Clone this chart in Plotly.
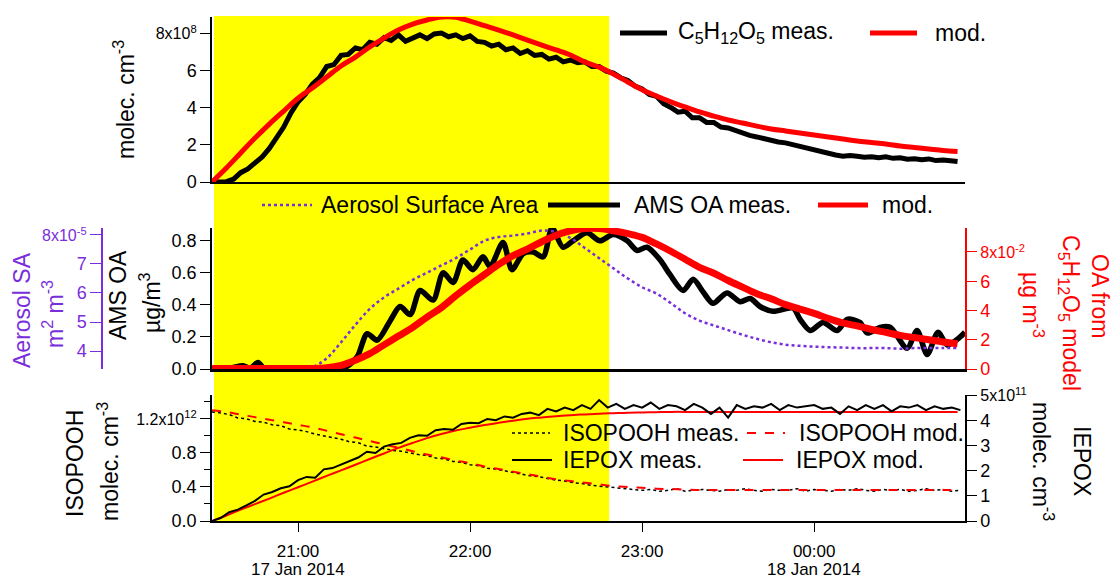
import plotly.graph_objects as go
import pandas as pd

# ---------------- data ----------------
START = pd.Timestamp("2014-01-17 20:30")
END_MIN = 262.6
HIGHLIGHT_MIN = (0.7, 138.5)          # yellow period (minutes after 20:30)

GRID5 = list(range(0, 261, 5))        # 5-min model grid, minutes after 20:30

# top panel: C5H12O5 (1e8 molec cm-3), measured on a 2.5-min grid
c5_meas = [0, 0.0, 0.02, 0.15, 0.5, 0.7, 1.0, 1.35, 1.8, 2.4, 2.95, 3.7, 4.3, 4.7, 5.25, 5.6,
           6.2, 6.3, 6.8, 6.85, 7.2, 7.1, 7.5, 7.4, 7.75, 7.6, 7.9, 7.55, 7.75, 7.9, 7.7, 7.95,
           8.0, 7.8, 7.9, 7.7, 7.85, 7.55, 7.5, 7.3, 7.4, 7.1, 7.2, 6.9, 7.05, 6.8, 6.85, 6.6,
           6.7, 6.45, 6.55, 6.4, 6.45, 6.2, 6.2, 5.95, 5.85, 5.6, 5.45, 5.15, 5.0, 4.7, 4.6, 4.2,
           4.0, 3.75, 3.8, 3.45, 3.45, 3.2, 3.2, 2.95, 2.9, 2.75, 2.65, 2.5, 2.42, 2.32, 2.25,
           2.15, 2.1, 2.0, 1.92, 1.8, 1.72, 1.62, 1.55, 1.45, 1.38, 1.42, 1.38, 1.33, 1.36, 1.3,
           1.35, 1.27, 1.3, 1.22, 1.25, 1.2, 1.24, 1.15, 1.18, 1.12, 1.1]
c5_mod = [0, 0.75, 1.56, 2.36, 3.11, 3.81, 4.5, 5.05, 5.64, 6.23, 6.71, 7.25, 7.73, 8.16, 8.48,
          8.7, 8.86, 8.85, 8.64, 8.4, 8.16, 7.9, 7.62, 7.35, 7.09, 6.82, 6.44, 6.17, 5.8, 5.37,
          4.95, 4.62, 4.3, 4.03, 3.76, 3.54, 3.33, 3.17, 3.0, 2.85, 2.74, 2.63, 2.52, 2.42, 2.31,
          2.2, 2.12, 2.04, 1.93, 1.85, 1.77, 1.69, 1.64]

# middle panel
sa_vals = [3.45] * 8 + [3.75, 4.3, 4.9, 5.45, 5.85, 6.15, 6.45, 6.7, 6.95, 7.2, 7.5, 7.8, 7.93,
                        7.98, 8.05, 8.15, 8.1, 7.9, 7.55, 7.2, 6.85, 6.5, 6.2, 5.98, 5.65, 5.3,
                        5.05, 4.88, 4.72, 4.56, 4.42, 4.3, 4.22, 4.18, 4.15, 4.13, 4.12, 4.1, 4.1,
                        4.1, 4.08, 4.1, 4.1, 4.1, 4.1]          # 1e-5 m2 m-3
ams_t = [0, 6.3, 10.8, 13.3, 16.0, 18.5, 27.2, 37.7, 42.9, 46.4, 50.6, 54.1, 57.6, 62.1, 65.6,
         69.1, 72.6, 77.1, 80.6, 84.1, 87.5, 91.0, 94.5, 97.0, 101.5, 104.6, 108.5, 112.0, 115.5,
         118.6, 122.4, 125.9, 130.8, 135.3, 139.9, 144.8, 148.2, 151.7, 156.3, 159.7, 164.3,
         167.8, 171.3, 174.7, 179.6, 184.2, 187.7, 191.1, 195.7, 202.6, 205.1, 208.6, 213.1,
         218.0, 221.5, 226.0, 228.5, 233.0, 236.5, 242.4, 245.9, 249.4, 253.2, 256.4, 260.9, 262.6]
ams_meas = [0.0, 0.005, 0.02, 0.005, 0.04, 0.0, 0.0, 0.0, 0.01, 0.01, 0.075, 0.22, 0.18, 0.30,
            0.39, 0.34, 0.49, 0.43, 0.60, 0.54, 0.68, 0.62, 0.70, 0.64, 0.79, 0.62, 0.72, 0.73,
            0.70, 0.88, 0.76, 0.80, 0.85, 0.80, 0.84, 0.80, 0.74, 0.76, 0.68, 0.59, 0.49, 0.56,
            0.48, 0.41, 0.475, 0.42, 0.44, 0.39, 0.36, 0.38, 0.31, 0.24, 0.29, 0.24, 0.31, 0.29,
            0.225, 0.26, 0.26, 0.13, 0.24, 0.09, 0.23, 0.15, 0.20, 0.23]   # ug m-3
oa_mod = [0.03] * 8 + [0.08, 0.25, 0.6, 1.05, 1.65, 2.25, 2.85, 3.55, 4.2, 5.0, 5.75, 6.45, 7.15,
                       7.75, 8.2, 8.7, 9.15, 9.45, 9.6, 9.6, 9.45, 9.25, 9.0, 8.55, 8.05, 7.5,
                       6.95, 6.55, 6.05, 5.6, 5.15, 4.8, 4.4, 4.1, 3.8, 3.45, 3.15, 2.95, 2.7,
                       2.5, 2.3, 2.15, 2.0, 1.85, 1.72]          # 1e-2 ug m-3

# bottom panel
isopooh_meas = [1.28, 1.27, 1.25, 1.21, 1.2, 1.17, 1.16, 1.13, 1.12, 1.08, 1.07, 1.05, 1.02, 1.0,
                0.98, 0.96, 0.93, 0.92, 0.88, 0.87, 0.85, 0.83, 0.82, 0.8, 0.78, 0.77, 0.74, 0.73,
                0.7, 0.69, 0.66, 0.65, 0.62, 0.61, 0.59, 0.57, 0.55, 0.53, 0.52, 0.5, 0.48, 0.47,
                0.45, 0.44, 0.42, 0.41, 0.4, 0.39, 0.38, 0.37,
                0.36, 0.37, 0.35, 0.36, 0.38, 0.35, 0.36, 0.37, 0.36, 0.35, 0.37, 0.36, 0.38, 0.36,
                0.35, 0.37, 0.36, 0.36, 0.38, 0.35, 0.37, 0.36, 0.35, 0.37, 0.36, 0.38, 0.36, 0.35,
                0.37, 0.36, 0.37, 0.35, 0.36, 0.38, 0.36, 0.37, 0.35, 0.36]   # 1e12, 3-min grid
isopooh_mod = [1.30, 1.28, 1.25, 1.22, 1.19, 1.16, 1.13, 1.1, 1.06, 1.02, 0.98, 0.94, 0.9, 0.86,
               0.82, 0.78, 0.75, 0.71, 0.68, 0.64, 0.61, 0.58, 0.55, 0.52, 0.49, 0.47, 0.45, 0.43,
               0.41, 0.4, 0.39, 0.38, 0.375, 0.37] + [0.365] * 19
iepox_meas = [0.0, 0.12, 0.35, 0.45, 0.62, 0.8, 1.05, 1.15, 1.3, 1.38, 1.62, 1.75, 1.72, 2.05,
              2.1, 2.25, 2.4, 2.52, 2.75, 2.7, 2.95, 3.05, 3.1, 3.3, 3.4, 3.38, 3.6, 3.65, 3.62,
              3.85, 3.9, 3.88, 4.05, 4.0, 4.15, 4.1, 4.25, 4.3, 4.2, 4.45, 4.35, 4.5, 4.4, 4.6,
              4.45, 4.8, 4.5, 4.65, 4.45, 4.6,
              4.5, 4.7, 4.45, 4.6, 4.55, 4.4, 4.65, 4.5, 4.25, 4.5, 4.1, 4.6, 4.45, 4.55, 4.5,
              4.65, 4.4, 4.6, 4.5, 4.55, 4.6, 4.45, 4.5, 4.25, 4.55, 4.4, 4.6, 4.45, 4.6, 4.35,
              4.55, 4.5, 4.6, 4.4, 4.55, 4.45, 4.5, 4.4]          # 1e11, 3-min grid
iepox_mod = [0, 0.22, 0.45, 0.67, 0.89, 1.12, 1.34, 1.56, 1.79, 2.01, 2.23, 2.46, 2.68, 2.9, 3.1,
             3.29, 3.45, 3.59, 3.7, 3.81, 3.9, 3.98, 4.06, 4.11, 4.16, 4.2, 4.23, 4.26, 4.28, 4.3,
             4.31, 4.32] + [4.33] * 21

X_TICKS = ["2014-01-17 21:00", "2014-01-17 22:00", "2014-01-17 23:00", "2014-01-18 00:00"]
X_TICKTEXT = ["21:00", "22:00", "23:00", "00:00"]
DATE_LABELS = {"2014-01-17 21:00": "17 Jan 2014", "2014-01-18 00:00": "18 Jan 2014"}


def to_time(mins):
    return [START + pd.Timedelta(minutes=float(m)) for m in mins]


def grid(vals, step):
    return to_time([step * i for i in range(len(vals))])


# ---------------- figure ----------------
W, H = 1115, 578
FONT = "Liberation Sans, Arial, sans-serif"
PURPLE = "#7A2EDB"
RED = "#FF0000"
TF = 18


def px(x):
    return x / W


def py(y):
    return 1 - y / H


def small(s):
    return "<span style='font-size:16px'>" + s + "</span>"


t5 = to_time(GRID5)
fig = go.Figure()

# top
fig.add_trace(go.Scatter(x=grid(c5_meas, 2.5), y=[v * 1e8 for v in c5_meas], xaxis="x", yaxis="y",
                         mode="lines", line=dict(color="black", width=5)))
fig.add_trace(go.Scatter(x=t5, y=[v * 1e8 for v in c5_mod], xaxis="x", yaxis="y", mode="lines",
                         line=dict(color=RED, width=5, shape="spline")))
# middle
fig.add_trace(go.Scatter(x=to_time(ams_t), y=ams_meas, xaxis="x2", yaxis="y2", mode="lines",
                         line=dict(color="black", width=5.5, shape="spline", smoothing=0.8)))
fig.add_trace(go.Scatter(x=t5, y=[v * 1e-5 for v in sa_vals], xaxis="x2", yaxis="y3", mode="lines",
                         line=dict(color=PURPLE, width=2.5, dash="dot", shape="spline")))
fig.add_trace(go.Scatter(x=t5, y=[v * 1e-2 for v in oa_mod], xaxis="x2", yaxis="y4", mode="lines",
                         line=dict(color=RED, width=7, shape="spline")))
# bottom
fig.add_trace(go.Scatter(x=grid(isopooh_meas, 3), y=[v * 1e12 for v in isopooh_meas], xaxis="x3",
                         yaxis="y5", mode="lines", line=dict(color="black", width=1.5, dash="dot")))
fig.add_trace(go.Scatter(x=t5, y=[v * 1e12 for v in isopooh_mod], xaxis="x3", yaxis="y5",
                         mode="lines", line=dict(color=RED, width=2, dash="dash", shape="spline")))
fig.add_trace(go.Scatter(x=t5, y=[v * 1e11 for v in iepox_mod], xaxis="x3", yaxis="y6",
                         mode="lines", line=dict(color=RED, width=2, shape="spline")))
fig.add_trace(go.Scatter(x=grid(iepox_meas, 3), y=[v * 1e11 for v in iepox_meas], xaxis="x3",
                         yaxis="y6", mode="lines", line=dict(color="black", width=2)))

xr = [START, START + pd.Timedelta(minutes=END_MIN)]
XD = [px(212), px(965)]
common_x = dict(domain=XD, range=xr, showgrid=False, zeroline=False, showline=True,
                linecolor="black", type="date", automargin=False)
tickfont = dict(family=FONT, size=TF, color="black")
common_y = dict(showgrid=False, zeroline=False, showline=True, linewidth=1.5, ticks="outside",
                ticklen=10, tickmode="array", automargin=False)

fig.update_layout(
    width=W, height=H, margin=dict(l=0, r=0, t=0, b=0, pad=0, autoexpand=False),
    paper_bgcolor="white", plot_bgcolor="rgba(0,0,0,0)", showlegend=False,
    font=dict(family=FONT, size=TF, color="black"),
    xaxis=dict(common_x, anchor="y", linewidth=2, showticklabels=False, ticks=""),
    xaxis2=dict(common_x, anchor="y2", matches="x", linewidth=3, showticklabels=False, ticks=""),
    xaxis3=dict(common_x, anchor="y5", matches="x", linewidth=2, ticks="outside", ticklen=9,
                tickcolor="black", tickmode="array", tickvals=X_TICKS, ticktext=X_TICKTEXT,
                tickfont=dict(family=FONT, size=17, color="black"), ticklabelstandoff=5),
    yaxis=dict(common_y, domain=[py(182), py(17)], range=[0, 8.86e8], anchor="x",
               linecolor="black", tickcolor="black",
               tickvals=[0, 2e8, 4e8, 6e8, 8e8],
               ticktext=["0", "2", "4", "6", small("8x10<sup>8</sup>")], tickfont=tickfont),
    yaxis2=dict(common_y, domain=[py(369), py(228)], range=[0, 0.88], anchor="x2",
                linecolor="black", tickcolor="black",
                tickvals=[0, 0.2, 0.4, 0.6, 0.8], ticktext=["0.0", "0.2", "0.4", "0.6", "0.8"],
                tickfont=tickfont),
    yaxis3=dict(common_y, overlaying="y2", anchor="free", position=px(102), side="left",
                range=[3.38e-5, 8.24e-5], linecolor=PURPLE, ticklen=11, tickcolor=PURPLE,
                tickvals=[4e-5, 5e-5, 6e-5, 7e-5, 8e-5],
                ticktext=["4", "5", "6", "7", small("8x10<sup>-5</sup>")],
                tickfont=dict(family=FONT, size=TF, color=PURPLE)),
    yaxis4=dict(common_y, overlaying="y2", anchor="x2", side="right", range=[0, 0.0964],
                linecolor=RED, tickcolor=RED,
                tickvals=[0, 0.02, 0.04, 0.06, 0.08],
                ticktext=["0", "2", "4", "6", small("8x10<sup>-2</sup>")],
                tickfont=dict(family=FONT, size=TF, color=RED)),
    yaxis5=dict(common_y, domain=[py(521), py(395)], range=[0, 1.48e12], anchor="x3",
                linecolor="black", tickcolor="black",
                tickvals=[0, 0.4e12, 0.8e12, 1.2e12],
                ticktext=["0.0", "0.4", "0.8", small("1.2x10<sup>12</sup>")], tickfont=tickfont,
                minor=dict(tickvals=[0.2e12, 0.6e12, 1.0e12, 1.4e12], ticks="outside",
                           ticklen=6, tickcolor="black")),
    yaxis6=dict(common_y, overlaying="y5", anchor="x3", side="right", range=[0, 5e11],
                linecolor="black", tickcolor="black",
                tickvals=[0, 1e11, 2e11, 3e11, 4e11, 5e11],
                ticktext=["0", "1", "2", "3", "4", small("5x10<sup>11</sup>")], tickfont=tickfont),
)

# yellow highlighted period
fig.add_shape(type="rect", xref="x", yref="paper",
              x0=START + pd.Timedelta(minutes=HIGHLIGHT_MIN[0]),
              x1=START + pd.Timedelta(minutes=HIGHLIGHT_MIN[1]),
              y0=py(521), y1=py(16), fillcolor="#FFFF00", line=dict(width=0), layer="below")


def leg_line(x0, x1, y, color, width, dash="solid"):
    fig.add_shape(type="line", xref="paper", yref="paper", x0=px(x0), x1=px(x1), y0=py(y),
                  y1=py(y), line=dict(color=color, width=width, dash=dash), layer="above")


def label(text, x, y, size=23, color="black", angle=0, xanchor="center"):
    fig.add_annotation(text=text, x=px(x), y=py(y), xref="paper", yref="paper", showarrow=False,
                       textangle=angle, xanchor=xanchor, yanchor="middle",
                       font=dict(family=FONT, size=size, color=color))


# date line under the time tick labels
for tick, txt in DATE_LABELS.items():
    fig.add_annotation(text=txt, x=pd.Timestamp(tick), y=py(569), xref="x3", yref="paper",
                       showarrow=False, xanchor="center", yanchor="middle",
                       font=dict(family=FONT, size=17, color="black"))

# legends
leg_line(620, 667, 33, "black", 5)
label("C<sub>5</sub>H<sub>12</sub>O<sub>5</sub> meas.", 676, 33, xanchor="left")
leg_line(870, 917, 33, RED, 5)
label("mod.", 933, 33, xanchor="left")

leg_line(262, 312, 205, PURPLE, 2.5, "dot")
label("Aerosol Surface Area", 319, 205, xanchor="left")
leg_line(548, 620, 205, "black", 5)
label("AMS OA meas.", 632, 205, xanchor="left")
leg_line(818, 868, 205, RED, 5)
label("mod.", 880, 205, xanchor="left")

leg_line(512, 550, 433, "black", 1.5, "dot")
label("ISOPOOH meas.", 561, 433, xanchor="left")
leg_line(747, 785, 433, RED, 2, "dash")
label("ISOPOOH mod.", 797, 433, xanchor="left")
leg_line(512, 552, 460, "black", 2)
label("IEPOX meas.", 561, 460, xanchor="left")
leg_line(743, 783, 460, RED, 2)
label("IEPOX mod.", 794, 460, xanchor="left")

# axis titles
label("molec. cm<sup>-3</sup>", 124, 100, angle=-90)
label("Aerosol SA", 22, 310, color=PURPLE, angle=-90)
label("m<sup>2</sup> m<sup>-3</sup>", 53, 314, color=PURPLE, angle=-90)
label("AMS OA", 118, 295, angle=-90)
label("µg/m<sup>3</sup>", 150, 303, angle=-90)
label("µg m<sup>-3</sup>", 1033, 305, color=RED, angle=90)
label("C<sub>5</sub>H<sub>12</sub>O<sub>5</sub> model", 1070, 313, color=RED, angle=90)
label("OA from", 1100, 296, color=RED, angle=90)
label("ISOPOOH", 75, 464, angle=-90)
label("molec. cm<sup>-3</sup>", 108, 462, angle=-90)
label("molec. cm<sup>-3</sup>", 1043, 461, angle=90)
label("IEPOX", 1082, 461, angle=90)

fig.write_html("out.html")
